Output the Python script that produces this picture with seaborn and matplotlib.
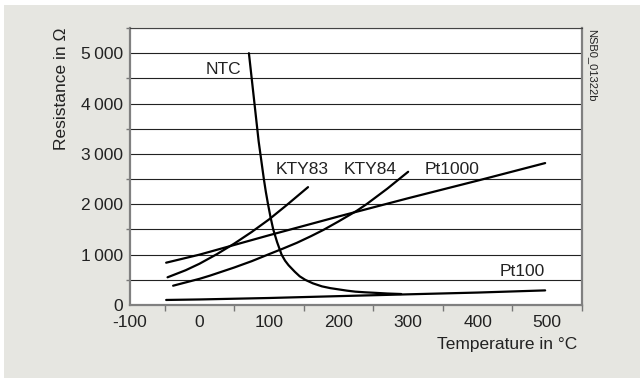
import matplotlib
matplotlib.use("Agg")
import matplotlib.pyplot as plt
from matplotlib.patches import Rectangle
from matplotlib.ticker import MultipleLocator, FuncFormatter
import seaborn as sns

# curves (temperature in degC, resistance in ohm)
ntc_t = [71, 73, 75, 77, 79, 81, 83, 85, 87.5, 90, 92.5, 95.3, 98.5, 102, 106, 111.5, 118,
         123, 128, 137, 144, 152, 163, 176, 188, 200, 212, 224, 238, 252, 270, 290]
ntc_r = [5000, 4750, 4500, 4250, 4000, 3750, 3500, 3250, 3000, 2750, 2500, 2250, 2000, 1750,
         1500, 1250, 1000, 880, 790, 660, 570, 500, 430, 370, 335, 310, 285, 265, 252,
         242, 228, 218]

kty83_t = [-46, -20, 0, 25, 50, 75, 100, 125, 156]
kty83_r = [550, 690, 820, 1010, 1220, 1450, 1700, 1980, 2340]

kty84_t = [-38, 0, 15, 50, 75, 100, 120, 140, 160, 178, 200, 226, 240, 270, 300]
kty84_r = [383, 520, 583, 745, 870, 1010, 1120, 1235, 1365, 1490, 1660, 1870, 2000, 2310, 2645]

pt1000_t = [-48, 0, 100, 200, 300, 400, 497]
pt1000_r = [840, 1000, 1385, 1758, 2120, 2470, 2818]

pt100_t = [-48, 0, 100, 200, 300, 400, 497]
pt100_r = [100, 110, 139, 176, 212, 247, 290]

labels = ["NTC", "KTY83", "KTY84", "Pt1000", "Pt100"]
label_t = [60, 109, 207, 323, 432]
label_r = [4680, 2700, 2700, 2700, 675]
label_ha = ["right", "left", "left", "left", "left"]

sns.set_style("white")
plt.rcParams['font.family'] = ['Liberation Sans', 'DejaVu Sans']

fig = plt.figure(figsize=(6.4, 3.8), dpi=100, facecolor="white")
fig.patches.append(Rectangle((4 / 640, 2 / 380), 1, 373 / 380, transform=fig.transFigure,
                             facecolor="#e6e6e1", edgecolor="none", zorder=-10))
ax = fig.add_axes([130 / 640, 1 - 305 / 380, 452 / 640, 277 / 380])
ax.set_zorder(1)
ax.set_facecolor("white")

for t, r in [(ntc_t, ntc_r), (kty83_t, kty83_r), (kty84_t, kty84_r),
             (pt1000_t, pt1000_r), (pt100_t, pt100_r)]:
    sns.lineplot(x=t, y=r, ax=ax, color="black", linewidth=1.6, zorder=3, sort=False)

ax.set_xlim(-100, 550)
ax.set_ylim(0, 5500)
ax.xaxis.set_major_locator(MultipleLocator(100))
ax.xaxis.set_minor_locator(MultipleLocator(50))
ax.yaxis.set_major_locator(MultipleLocator(1000))
ax.yaxis.set_minor_locator(MultipleLocator(500))
ax.xaxis.set_major_formatter(FuncFormatter(lambda v, p: "" if v > 500 else f"{v:.0f}"))
ax.yaxis.set_major_formatter(FuncFormatter(
    lambda v, p: "" if v > 5000 else f"{v:,.0f}".replace(",", "\u2009")))

ax.grid(True, which="both", axis="y", color="#222222", linewidth=0.8)
ax.tick_params(which="both", direction="out", color="#777777", width=1,
               labelsize=12.5, labelcolor="#222222")
ax.tick_params(axis="x", which="both", length=4, pad=3)
ax.tick_params(axis="y", which="both", length=3, pad=2)
ax.tick_params(axis="y", which="minor", left=True)
ax.tick_params(axis="x", which="minor", bottom=True)

for side in ["left", "bottom", "right"]:
    ax.spines[side].set_color("#808080")
    ax.spines[side].set_linewidth(1.6)
ax.spines["top"].set_color("#444444")
ax.spines["top"].set_linewidth(0.8)

for txt, t, r, ha in zip(labels, label_t, label_r, label_ha):
    ax.text(t, r, txt, ha=ha, va="center", fontsize=12.5, color="#222222", zorder=4)

fig.text(62 / 640, 1 - 28 / 380, "Resistance in \u03a9", rotation=90, ha="center", va="top",
         fontsize=12.5, color="#222222")
fig.text(577 / 640, 1 - 345 / 380, "Temperature in \u00b0C", ha="right", va="center",
         fontsize=12.5, color="#222222")
fig.text(592 / 640, 1 - 29 / 380, "NSB0_01322b", rotation=270, ha="center", va="top",
         fontsize=8, color="#222222")

fig.savefig("out.png", dpi=100, facecolor=fig.get_facecolor())
